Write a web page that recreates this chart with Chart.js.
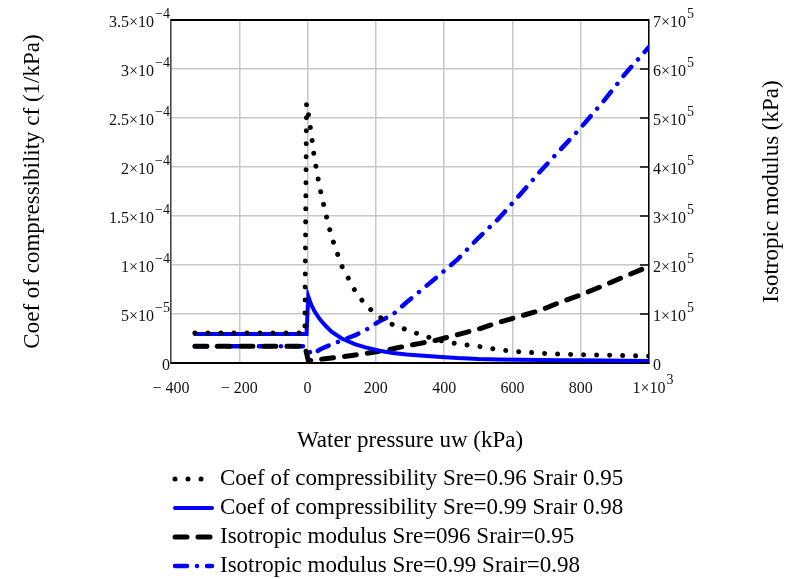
<!DOCTYPE html>
<html><head><meta charset="utf-8">
<script src="https://cdn.jsdelivr.net/npm/chart.js@4.4.1/dist/chart.umd.min.js"></script>
<style>html,body{margin:0;padding:0;background:#fff;}#wrap{width:785px;height:579px;position:relative;}</style>
</head><body><div id="wrap"><canvas id="c" width="785" height="579"></canvas></div>
<script>
// Water pressure uw (kPa)
const uw = [-330, -250, -150, -50, -8, -3, 2, 10, 20, 35, 50, 70, 100, 140, 170, 210, 250, 290, 330, 380, 440, 500, 560, 620, 680, 740, 800, 870, 930, 1000];
// Coef of compressibility (1/kPa)
const cfSre096 = [3.05e-5, 3.05e-5, 3.05e-5, 3.05e-5, 3.05e-5, 2.65e-4, 2.55e-4, 2.36e-4, 2.09e-4, 1.80e-4, 1.57e-4, 1.29e-4, 0.99e-4, 0.73e-4, 0.59e-4, 0.47e-4, 0.39e-4, 0.34e-4, 0.29e-4, 0.235e-4, 0.195e-4, 0.17e-4, 0.135e-4, 0.115e-4, 0.10e-4, 0.09e-4, 0.085e-4, 0.08e-4, 0.075e-4, 0.07e-4];
const cfSre099 = [2.95e-5, 2.95e-5, 2.95e-5, 2.95e-5, 2.95e-5, 2.95e-5, 6.8e-5, 6.0e-5, 5.3e-5, 4.5e-5, 3.9e-5, 3.2e-5, 2.5e-5, 1.9e-5, 1.6e-5, 1.25e-5, 1.02e-5, 0.87e-5, 0.76e-5, 0.65e-5, 0.5e-5, 0.4e-5, 0.35e-5, 0.32e-5, 0.3e-5, 0.28e-5, 0.27e-5, 0.25e-5, 0.23e-5, 0.2e-5];
// Isotropic modulus (kPa)
const isoSre096 = [3.4e4, 3.4e4, 3.4e4, 3.4e4, 3.4e4, 2.0e4, 0.5e4, 0.5e4, 0.6e4, 0.75e4, 0.85e4, 1.0e4, 1.25e4, 1.65e4, 1.95e4, 2.4e4, 2.9e4, 3.5e4, 4.0e4, 4.7e4, 5.8e4, 6.9e4, 8.3e4, 9.5e4, 1.07e5, 1.24e5, 1.39e5, 1.59e5, 1.77e5, 1.97e5];
const isoSre099 = [3.4e4, 3.4e4, 3.4e4, 3.4e4, 3.4e4, 3.3e4, 2.8e4, 1.8e4, 2.0e4, 2.7e4, 3.2e4, 3.8e4, 4.6e4, 5.7e4, 6.7e4, 8.5e4, 9.9e4, 1.24e5, 1.47e5, 1.76e5, 2.12e5, 2.55e5, 2.95e5, 3.42e5, 3.9e5, 4.35e5, 4.8e5, 5.37e5, 5.9e5, 6.45e5];

// tick labels: "base^exponent"
const xTickLabels = ['\u2212 400', '\u2212 200', '0', '200', '400', '600', '800', '1\u00d710^3'];
const leftTickLabels = ['0', '5\u00d710^\u22125', '1\u00d710^\u22124', '1.5\u00d710^\u22124', '2\u00d710^\u22124', '2.5\u00d710^\u22124', '3\u00d710^\u22124', '3.5\u00d710^\u22124'];
const rightTickLabels = ['0', '1\u00d710^5', '2\u00d710^5', '3\u00d710^5', '4\u00d710^5', '5\u00d710^5', '6\u00d710^5', '7\u00d710^5'];
const seriesNames = ['Coef of compressibility Sre=0.96 Srair 0.95', 'Coef of compressibility Sre=0.99 Srair 0.98', 'Isotropic modulus Sre=096 Srair=0.95', 'Isotropic modulus Sre=0.99 Srair=0.98'];
const xTitle = 'Water pressure uw (kPa)';
const yTitle = 'Coef of compressibility cf (1/kPa)';
const y1Title = 'Isotropic modulus (kPa)';

const FONT = '"Liberation Serif", "Times New Roman", serif';
const pts = arr => uw.map((x, i) => ({x: x, y: arr[i]}));

function drawSup(ctx, label, x, y, align) {
  const parts = label.split('^');
  const base = parts[0], exp = parts[1] || '';
  ctx.font = '16px ' + FONT;
  const wb = ctx.measureText(base).width;
  ctx.font = '14px ' + FONT;
  const we = exp ? ctx.measureText(exp).width + 1 : 0;
  let start;
  if (align === 'right') start = x - wb - we;
  else if (align === 'left') start = x;
  else start = x - wb / 2;
  ctx.textAlign = 'left'; ctx.textBaseline = 'middle';
  ctx.font = '16px ' + FONT;
  ctx.fillText(base, start, y);
  if (exp) { ctx.font = '14px ' + FONT; ctx.fillText(exp, start + wb + 1, y - 9); }
}

const extras = {
  id: 'extras',
  afterDraw(chart) {
    const ctx = chart.ctx, a = chart.chartArea;
    ctx.save();
    // top frame line
    ctx.strokeStyle = '#000'; ctx.lineWidth = 2; ctx.setLineDash([]);
    ctx.beginPath(); ctx.moveTo(a.left, a.top); ctx.lineTo(a.right, a.top); ctx.stroke();
    // inward ticks of right axis
    const y1 = chart.scales.y1, y = chart.scales.y, x = chart.scales.x;
    ctx.lineWidth = 1.5;
    y1.ticks.forEach(t => {
      const py = y1.getPixelForValue(t.value);
      ctx.beginPath(); ctx.moveTo(a.right - 9, py); ctx.lineTo(a.right, py); ctx.stroke();
    });
    // tick labels
    ctx.fillStyle = '#111';
    y.ticks.forEach((t, i) => drawSup(ctx, leftTickLabels[i], a.left - 1, y.getPixelForValue(t.value) + 3, 'right'));
    y1.ticks.forEach((t, i) => drawSup(ctx, rightTickLabels[i], a.right + 4, y1.getPixelForValue(t.value) + 3, 'left'));
    x.ticks.forEach((t, i) => drawSup(ctx, xTickLabels[i], x.getPixelForValue(t.value), a.bottom + 26, 'center'));
    // right axis title (reads bottom to top)
    ctx.fillStyle = '#000';
    ctx.font = '23px ' + FONT;
    ctx.textAlign = 'center'; ctx.textBaseline = 'middle';
    ctx.translate(772, (a.top + a.bottom) / 2);
    ctx.rotate(-Math.PI / 2);
    ctx.fillText(y1Title, 0, 0);
    ctx.restore();
    // legend
    ctx.save();
    const rows = [479, 508, 537, 566];
    chart.data.datasets.forEach((ds, i) => {
      const yy = rows[i];
      ctx.strokeStyle = ds.borderColor;
      ctx.lineWidth = ds.borderWidth;
      ctx.lineCap = ds.borderCapStyle || 'butt';
      ctx.setLineDash(ds.borderDash || []);
      ctx.beginPath(); ctx.moveTo(175, yy); ctx.lineTo(212, yy); ctx.stroke();
      ctx.setLineDash([]);
      ctx.fillStyle = '#000';
      ctx.font = '23px ' + FONT;
      ctx.textAlign = 'left'; ctx.textBaseline = 'middle';
      ctx.fillText(ds.label, 220, yy);
    });
    ctx.restore();
  }
};

new Chart(document.getElementById('c'), {
  type: 'line',
  data: {
    datasets: [
      {label: seriesNames[0], data: pts(cfSre096), yAxisID: 'y', borderColor: '#000000', borderWidth: 5, borderDash: [0.01, 13], borderCapStyle: 'round', pointRadius: 0, fill: false},
      {label: seriesNames[1], data: pts(cfSre099), yAxisID: 'y', borderColor: '#0000ff', borderWidth: 4, borderCapStyle: 'round', pointRadius: 0, fill: false},
      {label: seriesNames[2], data: pts(isoSre096), yAxisID: 'y1', borderColor: '#000000', borderWidth: 5, borderDash: [12, 11], borderCapStyle: 'round', pointRadius: 0, fill: false},
      {label: seriesNames[3], data: pts(isoSre099), yAxisID: 'y1', borderColor: '#0000ff', borderWidth: 4.5, borderDash: [12, 10, 0.01, 10], borderCapStyle: 'round', pointRadius: 0, fill: false}
    ]
  },
  options: {
    responsive: false, animation: false, devicePixelRatio: 1,
    layout: {padding: {top: 20, left: 0, right: 0, bottom: 0}},
    plugins: {legend: {display: false}, tooltip: {enabled: false}},
    scales: {
      x: {
        type: 'linear', min: -400, max: 1000,
        afterFit: s => { s.height = 216; },
        ticks: {display: false, stepSize: 200},
        grid: {color: '#c8c8c8', lineWidth: 1.5, drawTicks: false},
        border: {color: '#000', width: 2},
        title: {display: true, text: xTitle, color: '#000', font: {family: FONT, size: 23}, padding: {top: 0, bottom: 124}}
      },
      y: {
        position: 'left', min: 0, max: 3.5e-4,
        afterFit: s => { s.width = 171; },
        ticks: {display: false, stepSize: 0.5e-4},
        grid: {color: '#c8c8c8', lineWidth: 1.5, drawTicks: false},
        border: {color: '#444', width: 1.5},
        title: {display: true, text: yTitle, color: '#000', font: {family: FONT, size: 23}, padding: {top: 19, bottom: 0}}
      },
      y1: {
        position: 'right', min: 0, max: 7e5,
        afterFit: s => { s.width = 136; },
        ticks: {display: false, stepSize: 1e5},
        grid: {drawOnChartArea: false, drawTicks: false},
        border: {color: '#000', width: 1.5}
      }
    }
  },
  plugins: [extras]
});
</script>
</body></html>
